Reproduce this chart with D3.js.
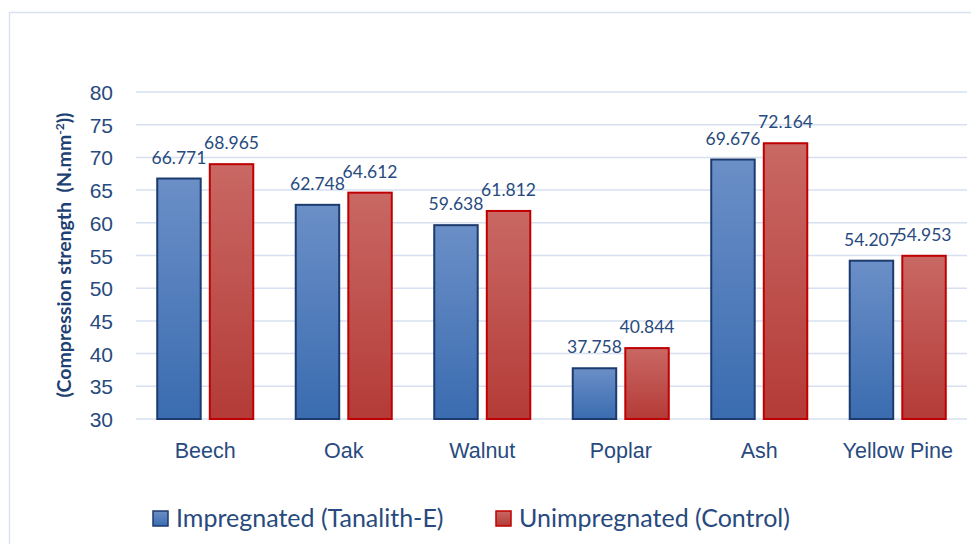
<!DOCTYPE html>
<html><head><meta charset="utf-8">
<script src="https://cdn.jsdelivr.net/npm/d3@7/dist/d3.min.js"></script>
<style>body{margin:0;background:#fff;}svg{display:block;font-family:Lato,"Open Sans",sans-serif;}</style>
</head><body>
<svg id="c" width="971" height="544"></svg>
<script>
const categories = ["Beech","Oak","Walnut","Poplar","Ash","Yellow Pine"];
const seriesNames = ["Impregnated (Tanalith-E)","Unimpregnated (Control)"];
const impregnated = [66.771,62.748,59.638,37.758,69.676,54.207];
const control = [68.965,64.612,61.812,40.844,72.164,54.953];
const yTicks = [30,35,40,45,50,55,60,65,70,75,80];

(function(){
const svg = d3.select("#c");
const textColor = "#284a7e";
const defs = svg.append("defs");
function grad(id, c0, c1){
  const g = defs.append("linearGradient").attr("id",id).attr("x1",0).attr("y1",0).attr("x2",0).attr("y2",1);
  g.append("stop").attr("offset","0%").attr("stop-color",c0);
  g.append("stop").attr("offset","100%").attr("stop-color",c1);
}
grad("gBlue","#6b8fc7","#3a6cb0");
grad("gRed","#c96864","#b43b37");
const fills = ["url(#gBlue)","url(#gRed)"];
const strokes = ["#1c3a6e","#c00000"];

// chart border
svg.append("rect").attr("x",9.5).attr("y",12.5).attr("width",980).attr("height",560)
  .attr("fill","none").attr("stroke","#d9e2f0").attr("stroke-width",1.5);

const pLeft=136, pRight=967, pTop=92, pBottom=419;
const x = d3.scaleBand().domain(categories).range([pLeft,pRight]).paddingInner(0).paddingOuter(0);
const y = d3.scaleLinear().domain([30,80]).range([pBottom,pTop]);

// grid
svg.append("g").selectAll("line").data(yTicks).join("line")
  .attr("x1",pLeft).attr("x2",pRight).attr("y1",d=>y(d)).attr("y2",d=>y(d))
  .attr("stroke","#d6e0f0").attr("stroke-width",1.5);

// y axis
const yAxis = d3.axisLeft(y).tickValues(yTicks).tickSize(0).tickPadding(0);
const ya = svg.append("g").attr("transform",`translate(${pLeft-23},0)`).call(yAxis);
ya.select(".domain").remove();
ya.selectAll("text").attr("fill",textColor).style("font-size","21px").attr("dy","0.36em");

// x axis
const xAxis = d3.axisBottom(x).tickSize(0).tickPadding(0);
const xa = svg.append("g").attr("transform",`translate(0,${pBottom})`).call(xAxis);
xa.select(".domain").remove();
xa.selectAll("text").attr("fill",textColor).style("font-size","21.5px").attr("y",39).attr("dy",0);

// bars
const x1 = d3.scaleBand().domain([0,1]).range([0,x.bandwidth()]).paddingInner(0.173).paddingOuter(0.404);
const series = [impregnated, control];
series.forEach((vals,si)=>{
  const g = svg.append("g");
  g.selectAll("rect").data(vals).join("rect")
    .attr("x",(d,i)=>x(categories[i])+x1(si))
    .attr("y",d=>y(d))
    .attr("width",x1.bandwidth())
    .attr("height",d=>y(30)-y(d))
    .attr("fill",fills[si]).attr("stroke",strokes[si]).attr("stroke-width",2);
  g.selectAll("text").data(vals).join("text")
    .attr("x",(d,i)=>x(categories[i])+x1(si)+x1.bandwidth()/2)
    .attr("y",d=>y(d)-15)
    .attr("text-anchor","middle").attr("fill",textColor).style("font-size","17.5px")
    .text(d=>d3.format(".3f")(d));
});

// y label
svg.append("text").attr("transform","translate(71,255) rotate(-90)")
  .attr("text-anchor","middle").attr("fill","#203f73").style("font-size","19.5px").style("font-weight","bold")
  .html('(Compression strength&#160;&#160;(N.mm<tspan dy="-7" font-size="12px">-2</tspan><tspan dy="7">))</tspan>');

// legend
const legendX = [153,496];
seriesNames.forEach((n,i)=>{
  svg.append("rect").attr("x",legendX[i]).attr("y",511).attr("width",15).attr("height",15)
    .attr("fill",fills[i]).attr("stroke",strokes[i]).attr("stroke-width",1.5);
  svg.append("text").attr("x",legendX[i]+23).attr("y",527).attr("fill",textColor)
    .style("font-size","25px").text(n);
});
})();
</script>
</body></html>
